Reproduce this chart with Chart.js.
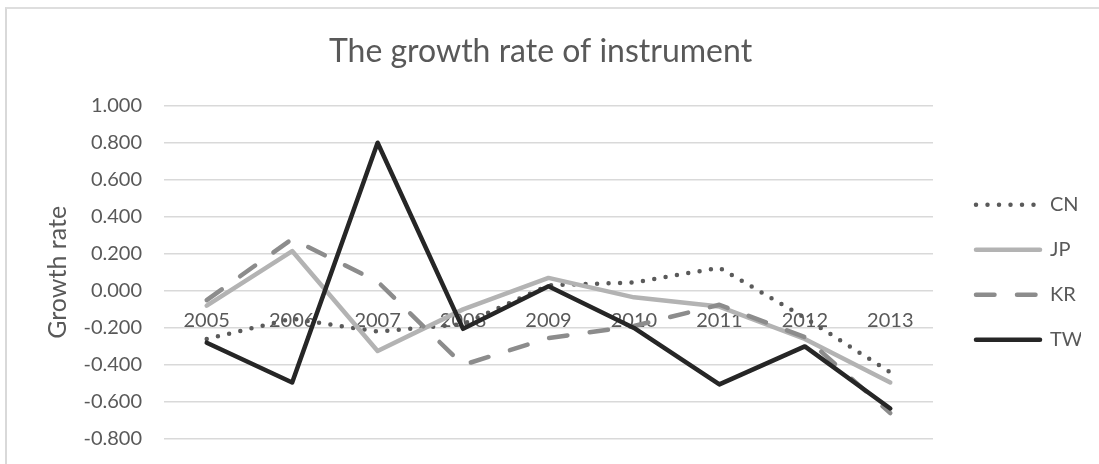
<!DOCTYPE html>
<html>
<head>
<meta charset="utf-8">
<title>The growth rate of instrument</title>
<script src="https://cdn.jsdelivr.net/npm/chart.js@4.4.1/dist/chart.umd.min.js"></script>
<style>
  html, body { margin: 0; padding: 0; background: #ffffff; overflow: hidden; }
  #wrap { position: relative; width: 1099px; height: 464px; }
  #chart { position: absolute; left: 0; top: 0; }
  #frame {
    position: absolute; left: 5px; top: 7px; width: 1200px; height: 600px;
    border-left: 2px solid #d9d9d9; border-top: 2px solid #dedede;
    pointer-events: none;
  }
</style>
</head>
<body>
<div id="wrap">
  <canvas id="chart" width="1099" height="464"></canvas>
  <div id="frame"></div>
</div>
<script>
// Years on the category axis
const years = ['2005', '2006', '2007', '2008', '2009', '2010', '2011', '2012', '2013'];

// Annual growth rate per market
const cnRates = [-0.26, -0.15, -0.22, -0.18, 0.03, 0.045, 0.125, -0.145, -0.44];
const jpRates = [-0.08, 0.215, -0.325, -0.10, 0.07, -0.035, -0.085, -0.26, -0.495];
const krRates = [-0.05, 0.28, 0.05, -0.40, -0.255, -0.19, -0.075, -0.25, -0.66];
const twRates = [-0.28, -0.495, 0.80, -0.205, 0.025, -0.20, -0.505, -0.30, -0.635];

// Value axis range
const yMin = -0.8;
const yMax = 1.0;
const yStep = 0.2;

const FONT = "'Lato', 'Noto Sans', sans-serif";
const TEXT = '#595959';

const ctx = document.getElementById('chart').getContext('2d');

new Chart(ctx, {
  type: 'line',
  data: {
    labels: years,
    datasets: [
      {
        label: 'CN', data: cnRates, order: 3,
        borderColor: '#5a5a5a', backgroundColor: '#5a5a5a',
        borderWidth: 4.5, borderDash: [0, 11.5], borderCapStyle: 'round'
      },
      {
        label: 'JP', data: jpRates, order: 2,
        borderColor: '#b3b3b3', backgroundColor: '#b3b3b3',
        borderWidth: 4.5, borderCapStyle: 'round'
      },
      {
        label: 'KR', data: krRates, order: 1,
        borderColor: '#8c8c8c', backgroundColor: '#8c8c8c',
        borderWidth: 4.5, borderDash: [18.5, 22.5], borderCapStyle: 'round'
      },
      {
        label: 'TW', data: twRates, order: 0,
        borderColor: '#262626', backgroundColor: '#262626',
        borderWidth: 4.5, borderCapStyle: 'round'
      }
    ]
  },
  options: {
    responsive: false,
    animation: false,
    devicePixelRatio: 1,
    layout: { padding: { top: 0, left: 0, right: 18, bottom: 25 } },
    elements: {
      line: { tension: 0, borderJoinStyle: 'round' },
      point: { radius: 0, hoverRadius: 0 }
    },
    scales: {
      x: {
        type: 'category',
        position: { y: 0 },
        offset: true,
        grid: { display: false, drawTicks: false },
        border: { display: false },
        ticks: {
          color: TEXT, font: { family: FONT, size: 20 },
          padding: 18, maxRotation: 0, autoSkip: false
        }
      },
      y: {
        position: 'left',
        min: yMin, max: yMax,
        afterFit: (scale) => { scale.width = 164; },
        grid: {
          color: '#d9d9d9', lineWidth: 1.5,
          drawTicks: true, tickLength: 19, tickColor: 'rgba(0,0,0,0)'
        },
        border: { display: false },
        ticks: {
          stepSize: yStep, padding: 3,
          color: TEXT, font: { family: FONT, size: 20 },
          callback: (v) => (Math.abs(v) < 1e-9 ? 0 : v).toFixed(3)
        },
        title: {
          display: true, text: 'Growth rate',
          color: TEXT, font: { family: FONT, size: 25, weight: 'normal' },
          padding: { top: 42.5, bottom: 0 }
        }
      },
      gap: {
        type: 'linear',
        position: 'right',
        display: true,
        afterFit: (scale) => { scale.width = 18; },
        grid: { display: false, drawTicks: false },
        border: { display: false },
        ticks: { display: false }
      }
    },
    plugins: {
      title: {
        display: true,
        text: 'The growth rate of instrument',
        color: TEXT,
        font: { family: FONT, size: 32, weight: 'normal' },
        padding: { top: 32, bottom: 35.3 }
      },
      legend: {
        display: true,
        position: 'right',
        align: 'center',
        fullSize: false,
        maxWidth: 130,
        labels: {
          usePointStyle: true,
          pointStyle: 'line',
          pointStyleWidth: 64,
          boxHeight: 20,
          padding: 25,
          color: TEXT,
          font: { family: FONT, size: 20, lineHeight: 1 },
          generateLabels: (chart) => chart.data.datasets.map((ds, i) => ({
            text: ds.label,
            fillStyle: ds.borderColor,
            strokeStyle: ds.borderColor,
            fontColor: TEXT,
            lineWidth: ds.borderWidth,
            lineDash: ds.borderDash || [],
            lineCap: ds.borderCapStyle,
            pointStyle: 'line',
            hidden: false,
            datasetIndex: i
          }))
        }
      },
      tooltip: { enabled: false }
    }
  }
});
</script>
</body>
</html>
